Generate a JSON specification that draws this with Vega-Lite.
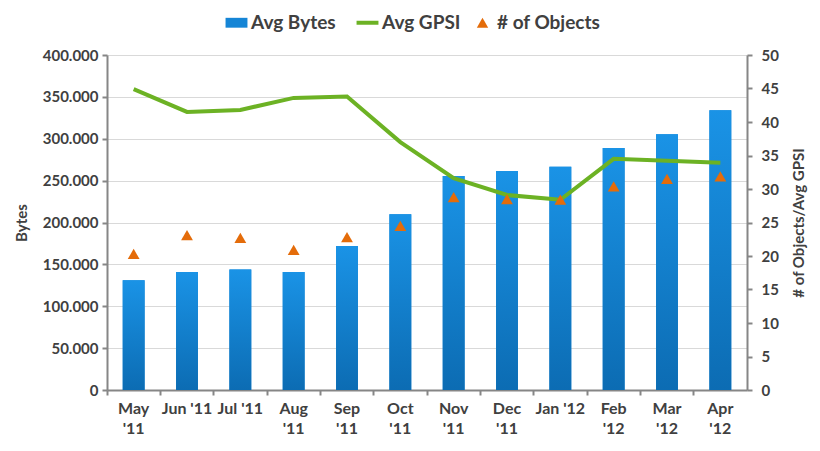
{
  "$schema": "https://vega.github.io/schema/vega-lite/v6.json",
  "autosize": {"type": "none"},
  "width": 640,
  "height": 335,
  "padding": {"left": 107, "top": 55, "right": 73, "bottom": 61},
  "background": "#ffffff",
  "config": {
    "view": {"stroke": null},
    "font": "Lato",
    "axis": {
      "labelFont": "Lato", "labelFontWeight": "bold", "labelFontSize": 15, "labelColor": "#404040",
      "titleFont": "Lato", "titleFontWeight": "bold", "titleFontSize": 15, "titleColor": "#404040",
      "domainColor": "#868686", "domainWidth": 2, "tickColor": "#868686", "tickWidth": 2, "tickSize": 5
    },
    "legend": {"labelFont": "Lato", "labelFontWeight": "bold", "labelFontSize": 19, "labelColor": "#404040"}
  },
  "data": {
    "values": [
      {"month": "May '11", "bytes": 131000, "gpsi": 44.9, "objects": 20.3},
      {"month": "Jun '11", "bytes": 141000, "gpsi": 41.5, "objects": 23.1},
      {"month": "Jul '11", "bytes": 144000, "gpsi": 41.8, "objects": 22.7},
      {"month": "Aug '11", "bytes": 141000, "gpsi": 43.6, "objects": 20.9},
      {"month": "Sep '11", "bytes": 172000, "gpsi": 43.8, "objects": 22.8},
      {"month": "Oct '11", "bytes": 210000, "gpsi": 37.0, "objects": 24.5},
      {"month": "Nov '11", "bytes": 255500, "gpsi": 31.6, "objects": 28.8},
      {"month": "Dec '11", "bytes": 261500, "gpsi": 29.1, "objects": 28.5},
      {"month": "Jan '12", "bytes": 266500, "gpsi": 28.4, "objects": 28.4},
      {"month": "Feb '12", "bytes": 289000, "gpsi": 34.5, "objects": 30.4},
      {"month": "Mar '12", "bytes": 305500, "gpsi": 34.2, "objects": 31.5},
      {"month": "Apr '12", "bytes": 334000, "gpsi": 33.9, "objects": 31.9}
    ]
  },
  "encoding": {
    "x": {
      "field": "month", "type": "nominal", "sort": null,
      "scale": {"paddingInner": 0, "paddingOuter": 0},
      "axis": {
        "title": null, "labelAngle": 0, "bandPosition": 0, "labelPadding": 5, "labelLineHeight": 20,
        "labelBaseline": "top", "labelFontSize": 16,
        "labelExpr": "indexof([\"Jun '11\",\"Jul '11\",\"Jan '12\"], datum.value) >= 0 ? datum.value : split(datum.value, ' ')"
      }
    }
  },
  "layer": [
    {
      "layer": [
        {
          "mark": {"type": "bar", "width": {"band": 0.41}},
          "encoding": {
            "y": {"field": "bytes", "type": "quantitative",
              "scale": {"domain": [0, 400000], "nice": false},
              "axis": {"title": "Bytes", "orient": "left", "values": [0, 50000, 100000, 150000, 200000, 250000, 300000, 350000, 400000],
                "labelExpr": "replace(format(datum.value, ','), ',', '.')", "grid": true, "gridColor": "#d9d9d9", "gridWidth": 1, "labelPadding": 4, "titlePadding": 13}},
            "color": {"datum": "Avg Bytes", "type": "nominal",
              "scale": {"domain": ["Avg Bytes", "Avg GPSI", "# of Objects"], "range": ["#1585d6", "#6cb224", "#e46c0a"]},
              "legend": {
                "title": null, "orient": "none", "direction": "horizontal", "legendX": 120, "legendY": -42,
                "columnPadding": 12, "labelOffset": 5, "symbolOpacity": 1,
                "encode": {"symbols": {"update": {
                  "shape": {"signal": "datum.value === 'Avg Bytes' ? 'M-1,-0.45H1V0.45H-1Z' : datum.value === 'Avg GPSI' ? 'M-1,0H1' : 'triangle-up'"},
                  "size": {"signal": "datum.value === '# of Objects' ? 130 : 480"},
                  "fill": {"signal": "datum.value === 'Avg GPSI' ? 'transparent' : scale('color', datum.value)"},
                  "stroke": {"signal": "datum.value === 'Avg GPSI' ? '#6cb224' : 'transparent'"},
                  "strokeWidth": {"signal": "datum.value === 'Avg GPSI' ? 4 : 0"},
                  "opacity": {"value": 1}
                }}}
              }}
          }
        },
        {
          "mark": {"type": "bar", "width": {"band": 0.41},
            "color": {"gradient": "linear", "x1": 0, "y1": 0, "x2": 0, "y2": 1,
              "stops": [{"offset": 0, "color": "#1a93e6"}, {"offset": 1, "color": "#0c6cb3"}]}},
          "encoding": {
            "y": {"field": "bytes", "type": "quantitative"}
          }
        }
      ]
    },
    {
      "layer": [
        {
          "mark": {"type": "line", "strokeWidth": 4},
          "encoding": {
            "y": {"field": "gpsi", "type": "quantitative",
              "scale": {"domain": [0, 50], "nice": false},
              "axis": {"title": "# of Objects/Avg GPSI", "orient": "right", "values": [0, 5, 10, 15, 20, 25, 30, 35, 40, 45, 50],
                "grid": false, "labelPadding": 9, "titlePadding": 28, "titleAngle": -90}},
            "color": {"datum": "Avg GPSI", "type": "nominal"}
          }
        },
        {
          "mark": {"type": "point", "shape": "triangle-up", "filled": true, "size": 140, "opacity": 1},
          "encoding": {
            "y": {"field": "objects", "type": "quantitative",
              "axis": {"title": "# of Objects/Avg GPSI", "orient": "right", "values": [0, 5, 10, 15, 20, 25, 30, 35, 40, 45, 50],
                "grid": false, "labelPadding": 9, "titlePadding": 28, "titleAngle": -90}},
            "color": {"datum": "# of Objects", "type": "nominal"}
          }
        }
      ]
    }
  ],
  "resolve": {"scale": {"y": "independent"}}
}
